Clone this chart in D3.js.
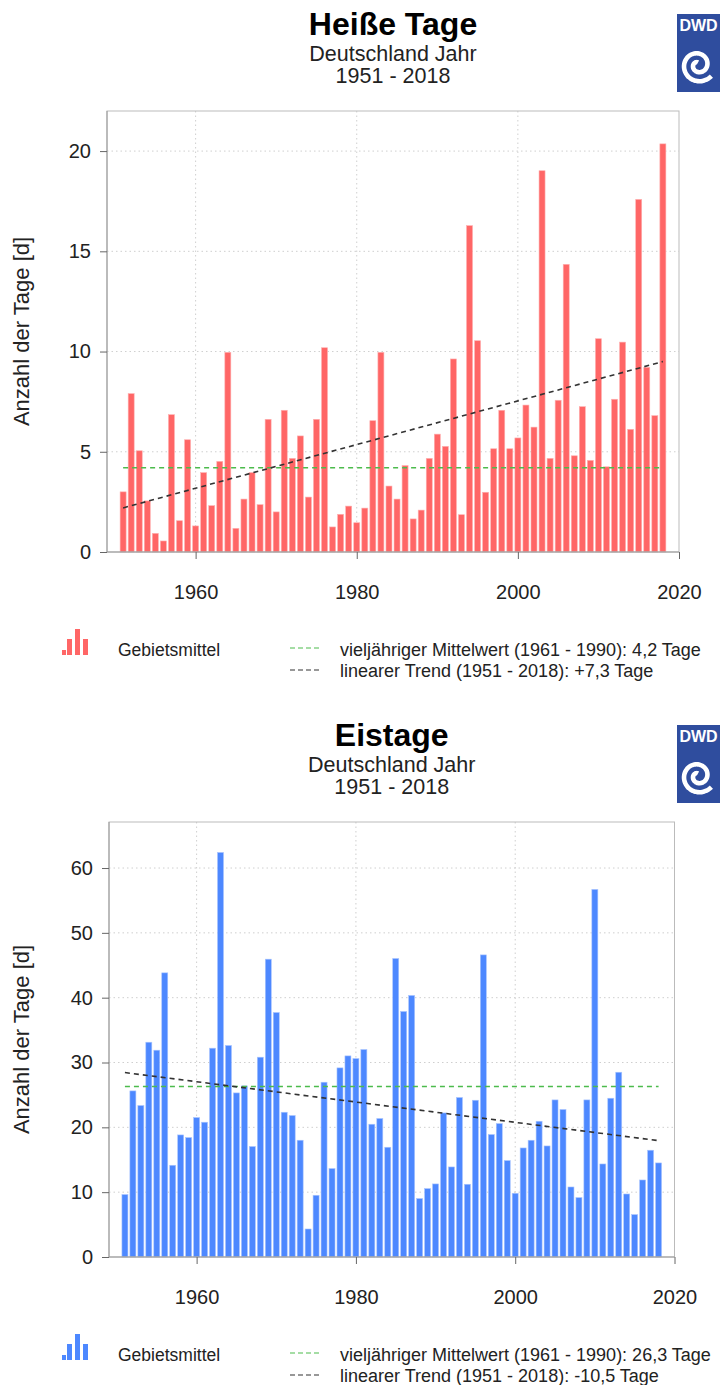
<!DOCTYPE html>
<html>

<head>
    <meta charset="utf-8">
    <title>Heiße Tage / Eistage</title>
    <script src="https://d3js.org/d3.v7.min.js"></script>
    <style>
        body { margin: 0; background: #fff; }
        svg text { font-family: "Liberation Sans", Arial, sans-serif; fill: #222; }
    </style>
</head>

<body>
    <div id="chart"></div>
    <script>
        // years shown on both charts
        var years = [1951, 1952, 1953, 1954, 1955, 1956, 1957, 1958, 1959, 1960,
            1961, 1962, 1963, 1964, 1965, 1966, 1967, 1968, 1969, 1970,
            1971, 1972, 1973, 1974, 1975, 1976, 1977, 1978, 1979, 1980,
            1981, 1982, 1983, 1984, 1985, 1986, 1987, 1988, 1989, 1990,
            1991, 1992, 1993, 1994, 1995, 1996, 1997, 1998, 1999, 2000,
            2001, 2002, 2003, 2004, 2005, 2006, 2007, 2008, 2009, 2010,
            2011, 2012, 2013, 2014, 2015, 2016, 2017, 2018];

        // Heiße Tage (days >= 30 °C), area mean
        var hotDays = [3.0, 7.9, 5.05, 2.55, 0.93, 0.55, 6.85, 1.56, 5.6, 1.3,
            3.96, 2.31, 4.52, 9.96, 1.18, 2.64, 3.96, 2.36, 6.62, 2.0,
            7.07, 4.67, 5.79, 2.74, 6.62, 10.19, 1.25, 1.88, 2.29, 1.46,
            2.19, 6.55, 9.96, 3.29, 2.64, 4.31, 1.65, 2.09, 4.67, 5.88,
            5.27, 9.63, 1.86, 16.28, 10.54, 2.98, 5.15, 7.07, 5.15, 5.69,
            7.33, 6.23, 19.02, 4.67, 7.57, 14.35, 4.8, 7.25, 4.57, 10.64,
            4.25, 7.62, 10.47, 6.12, 17.59, 9.21, 6.8, 20.36];

        // Eistage (max < 0 °C), area mean
        var iceDays = [9.63, 25.62, 23.36, 33.13, 31.9, 43.83, 14.15, 18.83, 18.42, 21.51,
            20.79, 32.21, 62.4, 32.62, 25.31, 26.39, 17.04, 30.82, 45.94, 37.71,
            22.33, 21.82, 18.01, 4.32, 9.52, 26.96, 13.64, 29.17, 31.02, 30.61,
            32.0, 20.48, 21.36, 16.93, 46.04, 37.87, 40.34, 9.01, 10.55, 11.27,
            22.22, 13.89, 24.6, 11.22, 24.18, 46.6, 18.89, 20.58, 14.87, 9.83,
            16.82, 18.01, 20.94, 17.13, 24.23, 22.75, 10.8, 9.16, 24.23, 56.7,
            14.35, 24.49, 28.5, 9.72, 6.54, 11.88, 16.47, 14.51];

        var xTicks = [1960, 1980, 2000, 2020];
        var hotTicks = [0, 5, 10, 15, 20];
        var iceTicks = [0, 10, 20, 30, 40, 50, 60];

        // long-term mean 1961-1990 and linear trend endpoints (1951, 2018)
        var hotMean = 4.2, iceMean = 26.3;
        var hotTrend = [[1951, 2.2], [2018, 9.5]];
        var iceTrend = [[1951, 28.45], [2018, 17.95]];

        var hotLegend = ["vieljähriger Mittelwert (1961 - 1990): 4,2 Tage", "linearer Trend (1951 - 2018): +7,3 Tage"];
        var iceLegend = ["vieljähriger Mittelwert (1961 - 1990): 26,3 Tage", "linearer Trend (1951 - 2018): -10,5 Tage"];

        var svg = d3.select("#chart")
            .append("svg")
            .attr("width", 720)
            .attr("height", 1385);

        function drawChart(c) {
            var g = svg.append("g").attr("transform", "translate(0," + c.top + ")");

            var x = d3.scaleLinear().domain([1949, 2020]).range([c.left, c.right]);
            var y = d3.scaleLinear().domain([0, c.yMax]).range([c.bottom, c.plotTop]);

            // titles
            var cx = (c.left + c.right) / 2;
            g.append("text").attr("x", cx).attr("y", 35).attr("text-anchor", "middle")
                .style("font-size", "32px").style("font-weight", "bold").style("fill", "#000").text(c.title);
            g.append("text").attr("x", cx).attr("y", 61).attr("text-anchor", "middle")
                .style("font-size", "21.5px").text("Deutschland Jahr");
            g.append("text").attr("x", cx).attr("y", 83).attr("text-anchor", "middle")
                .style("font-size", "21.5px").text("1951 - 2018");

            // DWD logo
            var logo = g.append("g").attr("transform", "translate(677,14)");
            logo.append("rect").attr("width", 43).attr("height", 78).attr("fill", "#2f4d9e");
            logo.append("text").attr("x", 21.5).attr("y", 17).attr("text-anchor", "middle")
                .style("font-size", "16px").style("font-weight", "bold").style("fill", "#fff").text("DWD");
            var spiral = [];
            for (var t = 0; t <= 3.3 * Math.PI; t += 0.1) {
                spiral.push([-t, 2.5 + t * 1.45]);
            }
            logo.append("path")
                .attr("transform", "translate(21,51)")
                .attr("d", d3.lineRadial().curve(d3.curveCardinal)(spiral))
                .attr("fill", "none").attr("stroke", "#fff").attr("stroke-width", 4.6);

            // grid
            g.append("g").selectAll("line").data(c.yTicks.slice(1)).enter().append("line")
                .attr("x1", c.left).attr("x2", c.right)
                .attr("y1", function (d) { return y(d); }).attr("y2", function (d) { return y(d); })
                .attr("stroke", "#cfcfcf").attr("stroke-dasharray", "1.5,3");
            g.append("g").selectAll("line").data(xTicks.slice(0, 3)).enter().append("line")
                .attr("x1", function (d) { return x(d); }).attr("x2", function (d) { return x(d); })
                .attr("y1", c.plotTop).attr("y2", c.bottom)
                .attr("stroke", "#cfcfcf").attr("stroke-dasharray", "1.5,3");

            // bars
            g.append("g").selectAll("rect").data(c.values).enter().append("rect")
                .attr("x", function (d, i) { return x(years[i]) - 3; })
                .attr("width", 6)
                .attr("y", function (d) { return y(d); })
                .attr("height", function (d) { return c.bottom - y(d); })
                .attr("fill", c.color)
                .attr("stroke", c.edge).attr("stroke-width", 0.6);

            // mean + trend
            g.append("line")
                .attr("x1", x(1951)).attr("x2", x(2018))
                .attr("y1", y(c.mean)).attr("y2", y(c.mean))
                .attr("stroke", "#4cbb4c").attr("stroke-width", 1.6).attr("stroke-dasharray", "5,4");
            g.append("path")
                .attr("d", d3.line().x(function (d) { return x(d[0]); }).y(function (d) { return y(d[1]); })(c.trend))
                .attr("stroke", "#333").attr("stroke-width", 1.6).attr("stroke-dasharray", "5,4").attr("fill", "none");

            // box
            g.append("rect").attr("x", c.left).attr("y", c.plotTop)
                .attr("width", c.right - c.left).attr("height", c.bottom - c.plotTop)
                .attr("fill", "none").attr("stroke", "#bbb");
            g.append("line").attr("x1", c.left).attr("x2", c.left).attr("y1", c.plotTop).attr("y2", c.bottom)
                .attr("stroke", "#999");
            g.append("line").attr("x1", c.left).attr("x2", c.right).attr("y1", c.bottom).attr("y2", c.bottom)
                .attr("stroke", "#999");

            // axes
            var yAxis = g.append("g").attr("transform", "translate(" + c.left + ",0)")
                .call(d3.axisLeft(y).tickValues(c.yTicks).tickSize(7).tickPadding(9));
            var xAxis = g.append("g").attr("transform", "translate(0," + c.bottom + ")")
                .call(d3.axisBottom(x).tickValues(xTicks).tickFormat(d3.format("d")).tickSize(7).tickPadding(26));
            [yAxis, xAxis].forEach(function (a) {
                a.select(".domain").remove();
                a.selectAll(".tick line").attr("stroke", "#666");
                a.selectAll("text").style("font-size", "20px").style("font-family", "Liberation Sans, Arial, sans-serif").attr("fill", "#222");
            });

            g.append("text")
                .attr("transform", "translate(29," + ((c.plotTop + c.bottom) / 2) + ") rotate(-90)")
                .attr("text-anchor", "middle").style("font-size", "22px").text("Anzahl der Tage [d]");

            // legend
            var ly = c.bottom + 104;
            var icon = [[0, 5], [5, 16], [13, 26], [21, 16]];
            g.append("g").selectAll("rect").data(icon).enter().append("rect")
                .attr("x", function (d) { return 62 + d[0]; }).attr("width", function (d, i) { return i == 0 ? 4 : 5; })
                .attr("y", function (d) { return ly - 1 - d[1]; }).attr("height", function (d) { return d[1]; })
                .attr("fill", c.color);
            g.append("text").attr("x", 118).attr("y", ly).style("font-size", "17.5px").text("Gebietsmittel");
            g.append("line").attr("x1", 290).attr("x2", 320).attr("y1", ly - 8).attr("y2", ly - 8)
                .attr("stroke", "#4cbb4c").attr("stroke-width", 1.2).attr("stroke-dasharray", "5,3");
            g.append("line").attr("x1", 290).attr("x2", 320).attr("y1", ly + 14).attr("y2", ly + 14)
                .attr("stroke", "#333").attr("stroke-width", 1.2).attr("stroke-dasharray", "5,3");
            g.append("text").attr("x", 340).attr("y", ly).style("font-size", "18px").text(c.legend[0]);
            g.append("text").attr("x", 340).attr("y", ly + 21).style("font-size", "18px").text(c.legend[1]);
        }

        drawChart({
            top: 0, title: "Heiße Tage", values: hotDays, color: "#ff6666", edge: "#ffb0b0",
            left: 107, right: 679, plotTop: 111, bottom: 552, yMax: 22,
            yTicks: hotTicks, mean: hotMean, trend: hotTrend, legend: hotLegend
        });
        drawChart({
            top: 711, title: "Eistage", values: iceDays, color: "#4d88ff", edge: "#a8c4ff",
            left: 109, right: 674.5, plotTop: 111, bottom: 546, yMax: 67.1,
            yTicks: iceTicks, mean: iceMean, trend: iceTrend, legend: iceLegend
        });
    </script>
</body>

</html>
